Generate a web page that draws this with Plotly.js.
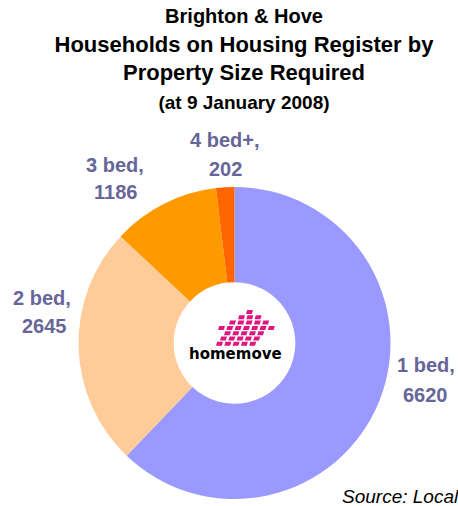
<!DOCTYPE html>
<html>
<head>
<meta charset="utf-8">
<script src="https://cdn.plot.ly/plotly-3.0.1.min.js"></script>
<style>html,body{margin:0;padding:0;background:#fff;overflow:hidden}#chart{width:458px;height:506px}</style>
</head>
<body>
<div id="chart"></div>
<script>
var categories = ["1 bed", "2 bed", "3 bed", "4 bed+"];
var households = [6620, 2645, 1186, 202];
var sliceColors = ["#9999FF", "#FFCC99", "#FF9900", "#FF6600"];
var titleLines = ["Brighton &amp; Hove", "Households on Housing Register by", "Property Size Required", "(at 9 January 2008)"];
var sourceText = "Source: Local Authority Housing Register";

var W = 458, H = 506;
function px(x) { return x / W; }
function py(y) { return 1 - y / H; }

// label placement (pixel centers of each of the two label lines)
var labelPos = [
  [[426, 365], [425, 395]],
  [[42, 298], [44, 326]],
  [[115, 165], [116, 192]],
  [[224, 140], [225, 169]]
];

var labelFont = {family: "Liberation Sans, Arial, sans-serif", size: 20, color: "#666699", weight: "bold"};
var annotations = [];
categories.forEach(function (c, i) {
  var lines = [c + ",", String(households[i])];
  lines.forEach(function (t, j) {
    annotations.push({
      text: "<b>" + t + "</b>", xref: "paper", yref: "paper",
      x: px(labelPos[i][j][0]), y: py(labelPos[i][j][1]),
      xanchor: "center", yanchor: "middle", showarrow: false, font: labelFont
    });
  });
});

// source note
annotations.push({
  text: "<i>" + sourceText + "</i>", xref: "paper", yref: "paper",
  x: px(340), y: py(496), xanchor: "left", yanchor: "middle", showarrow: false,
  font: {family: "Liberation Sans, Arial, sans-serif", size: 19, color: "#000000"}
});

// logo word
annotations.push({
  text: "<b>homemove</b>", xref: "paper", yref: "paper",
  x: px(235), y: py(354), xanchor: "center", yanchor: "middle", showarrow: false,
  font: {family: "DejaVu Sans, sans-serif", size: 15, color: "#000000"}
});

// logo pink tiles (decorative)
var logoRows = [
  [246, 1], [238, 3], [229, 5], [218, 7], [224, 5], [220, 5], [216, 5]
];
var shapes = [];
logoRows.forEach(function (row, r) {
  var y0 = 310 + r * 5.3;
  for (var k = 0; k < row[1]; k++) {
    var x0 = row[0] + k * 8.3;
    shapes.push({
      type: "path", xref: "paper", yref: "paper",
      path: "M" + px(x0 + 1.2) + "," + py(y0) + " L" + px(x0 + 7) + "," + py(y0) +
            " L" + px(x0 + 5.8) + "," + py(y0 + 4) + " L" + px(x0) + "," + py(y0 + 4) + " Z",
      fillcolor: "#E0157F", line: {width: 0}
    });
  }
});

var title = {
  text: "<b><span style='font-size:20px'>" + titleLines[0] + "</span><br>" + titleLines[1] + "<br>" + titleLines[2] +
        "<br><span style='font-size:19px'>" + titleLines[3] + "</span></b>",
  font: {family: "Liberation Sans, Arial, sans-serif", size: 22, color: "#000000"},
  x: 244 / W, xanchor: "center", xref: "container",
  y: 1 - 23 / H, yanchor: "top", yref: "container"
};

var data = [{
  type: "pie",
  labels: categories,
  values: households,
  marker: {colors: sliceColors, line: {width: 0}},
  hole: 0.39,
  sort: false,
  direction: "clockwise",
  rotation: 0,
  textinfo: "none",
  hoverinfo: "label+value",
  domain: {x: [78.5 / W, 390.5 / W], y: [py(499), py(187)]}
}];

var layout = {
  width: W, height: H,
  margin: {l: 0, r: 0, t: 0, b: 0},
  paper_bgcolor: "#ffffff",
  showlegend: false,
  title: title,
  annotations: annotations,
  shapes: shapes
};

Plotly.newPlot("chart", data, layout, {displayModeBar: false, staticPlot: true});
</script>
</body>
</html>
